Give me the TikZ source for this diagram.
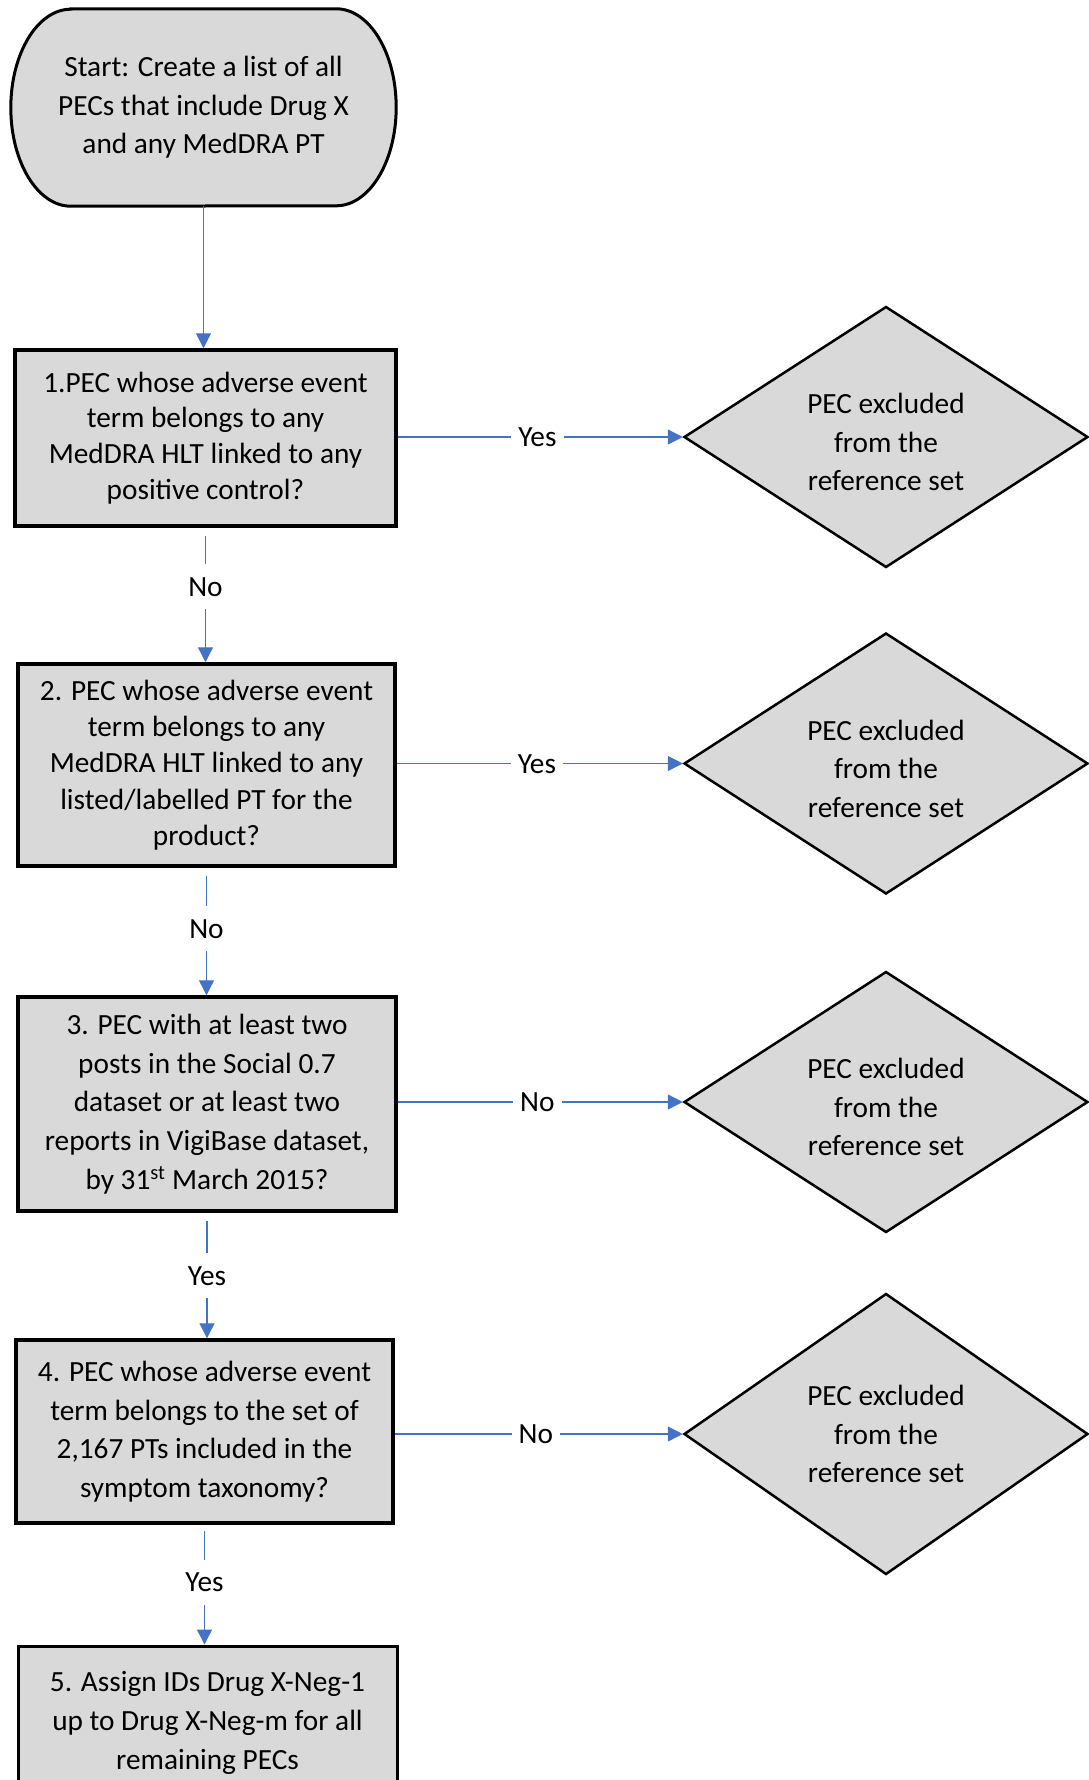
\documentclass[tikz,border=0pt]{standalone}
\usepackage{fontspec}
\setmainfont{Carlito}
\usetikzlibrary{shapes.geometric,arrows.meta,backgrounds}
\definecolor{boxgray}{HTML}{D9D9D9}
\definecolor{linkblue}{HTML}{4472C4}
\newcommand{\dropstrut}{\rule{0pt}{30.5pt}}
\begin{document}
\begin{tikzpicture}[x=1pt,y=-1pt,
  txt/.style={font=\fontsize{29.3}{38.6}\selectfont, align=center},
  procbox/.style={txt, draw=black, line width=3.5pt, fill=boxgray, inner sep=0pt},
  decision/.style={txt, diamond, aspect=1.55, draw=black, line width=2.5pt, fill=boxgray, minimum width=404, minimum height=261, inner sep=0pt},
  link/.style={draw=linkblue, line width=1.3pt, -{Triangle[length=15pt,width=15pt]}},
  lbl/.style={font=\fontsize{29.3}{38.6}\selectfont, fill=white, text height=19pt, text depth=0pt, inner xsep=7pt, inner ysep=13pt},
]
\useasboundingbox (0,0) rectangle (1089,1780);

% start terminator
\node[txt, minimum width=385, minimum height=197, inner sep=0pt] (start) at (203.5,107.5)
  {Start: Create a list of all\\PECs that include Drug X\\and any MedDRA PT};
\begin{scope}[on background layer]
\draw[line width=3pt, fill=boxgray]
  ([xshift=60pt]start.north west) -- ([xshift=-60pt]start.north east)
  arc[start angle=90, end angle=-90, x radius=60pt, y radius=98.5pt]
  -- ([xshift=60pt]start.south west)
  arc[start angle=270, end angle=90, x radius=60pt, y radius=98.5pt] -- cycle;
\end{scope}

% process boxes
\node[procbox, font=\fontsize{29.3}{35.8}\selectfont, minimum width=381, minimum height=176] (box1) at (205.5,438)
  {1.PEC whose adverse event\\term belongs to any\\MedDRA HLT linked to any\\positive control?};
\node[procbox, font=\fontsize{29.3}{36.3}\selectfont, minimum width=377, minimum height=202] (box2) at (206.5,765)
  {2. PEC whose adverse event\\term belongs to any\\MedDRA HLT linked to any\\listed/labelled PT for the\\product?};
\node[procbox, minimum width=378, minimum height=214] (box3) at (207,1104)
  {3. PEC with at least two\\posts in the Social 0.7\\dataset or at least two\\reports in VigiBase dataset,\\by 31\textsuperscript{st} March 2015?};
\node[procbox, minimum width=377, minimum height=183] (box4) at (204.5,1431.5)
  {4. PEC whose adverse event\\term belongs to the set of\\2,167 PTs included in the\\symptom taxonomy?};
\node[procbox, line width=3pt, minimum width=379, minimum height=154] (box5) at (207.5,1723)
  {5. Assign IDs Drug X-Neg-1\\up to Drug X-Neg-m for all\\remaining PECs};

% exclusion diamonds
\node[decision] (d1) at (886,437) {\dropstrut PEC excluded\\from the\\reference set};
\node[decision] (d2) at (886,763.5) {\dropstrut PEC excluded\\from the\\reference set};
\node[decision] (d3) at (886,1102) {\dropstrut PEC excluded\\from the\\reference set};
\node[decision, minimum height=281] (d4) at (886,1434) {PEC excluded\\from the\\reference set};

% vertical connectors
\draw[link] (start.south) -- (start.south |- box1.north);
\draw[link, shorten <=8pt] (box1.south) -- (box1.south |- box2.north) node[lbl, pos=0.44] {No};
\draw[link, shorten <=8pt] (box2.south) -- (box2.south |- box3.north) node[lbl, pos=0.48] {No};
\draw[link, shorten <=8pt] (box3.south) -- (box3.south |- box4.north) node[lbl, pos=0.5] {Yes};
\draw[link, shorten <=6pt] (box4.south) -- (box4.south |- box5.north) node[lbl, pos=0.48] {Yes};

% horizontal connectors
\draw[link] (box1.east |- d1.west) -- (d1.west) node[lbl, pos=0.49] {Yes};
\draw[link] (box2.east |- d2.west) -- (d2.west) node[lbl, pos=0.49] {Yes};
\draw[link] (box3.east |- d3.west) -- (d3.west) node[lbl, pos=0.49] {No};
\draw[link] (box4.east |- d4.west) -- (d4.west) node[lbl, pos=0.49] {No};
\end{tikzpicture}
\end{document}
